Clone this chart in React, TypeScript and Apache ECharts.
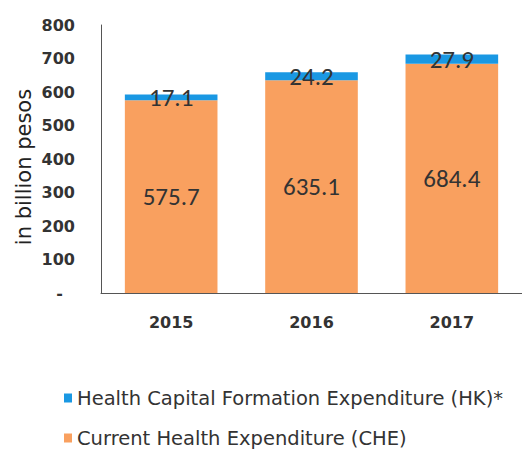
import React, { useEffect, useRef } from "react";
import * as echarts from "echarts";

const categories = ["2015", "2016", "2017"];
const cheValues = [575.7, 635.1, 684.4];
const hkValues = [17.1, 24.2, 27.9];
const yTicks = [0, 100, 200, 300, 400, 500, 600, 700, 800];
const yAxisTitle = "in billion pesos";
const cheName = "Current Health Expenditure (CHE)";
const hkName = "Health Capital Formation Expenditure (HK)*";

export default function App() {
  const ref = useRef<HTMLDivElement>(null);
  useEffect(() => {
    if (!ref.current) return;
    const chart = echarts.init(ref.current, null, { renderer: "svg" });
    chart.setOption({
      animation: false,
      backgroundColor: "#ffffff",
      grid: { left: 101, right: -5, top: 25, bottom: 156, containLabel: false },
      graphic: [
        {
          type: "text",
          x: 24,
          y: 167,
          rotation: Math.PI / 2,
          style: {
            text: yAxisTitle,
            font: "21px 'DejaVu Sans'",
            fill: "#222222",
            align: "center",
            verticalAlign: "middle",
          },
        },
      ],
      legend: {
        orient: "vertical",
        left: 64,
        top: 388,
        padding: 0,
        itemGap: 20,
        itemWidth: 8,
        itemHeight: 9,
        icon: "rect",
        data: [hkName, cheName],
        textStyle: { fontFamily: "DejaVu Sans", fontSize: 19.5, lineHeight: 20, color: "#333333" },
      },
      xAxis: {
        type: "category",
        data: categories,
        axisLine: { show: true, lineStyle: { color: "#555555", width: 1 } },
        axisTick: { show: false },
        axisLabel: {
          margin: 21,
          fontFamily: "DejaVu Sans",
          fontWeight: "bold",
          fontSize: 16,
          color: "#333333",
        },
      },
      yAxis: {
        type: "value",
        min: yTicks[0],
        max: yTicks[yTicks.length - 1],
        interval: 100,
        axisLine: { show: true, lineStyle: { color: "#555555", width: 1 } },
        axisTick: { show: false },
        splitLine: { show: false },
        axisLabel: {
          margin: 26,
          fontFamily: "DejaVu Sans",
          fontWeight: "bold",
          fontSize: 16,
          color: "#333333",
          formatter: (v: number) => (v === yTicks[0] ? "{d|-}" : String(v)),
          rich: {
            d: {
              fontFamily: "DejaVu Sans",
              fontWeight: "bold",
              fontSize: 16,
              color: "#333333",
              padding: [0, 12, 0, 0],
            },
          },
        },
      },
      series: [
        {
          name: cheName,
          type: "bar",
          stack: "total",
          data: cheValues,
          barCategoryGap: "34%",
          itemStyle: { color: "#F9A05F" },
          label: {
            show: true,
            position: "inside",
            fontFamily: "Carlito, Liberation Sans, Arial",
            fontSize: 25,
            color: "#333333",
            formatter: (p: any) => p.value.toFixed(1),
          },
        },
        {
          name: hkName,
          type: "bar",
          stack: "total",
          data: hkValues,
          barCategoryGap: "34%",
          itemStyle: { color: "#1A98E3" },
          label: {
            show: true,
            position: "inside",
            fontFamily: "Carlito, Liberation Sans, Arial",
            fontSize: 25,
            color: "#333333",
            formatter: (p: any) => p.value.toFixed(1),
          },
        },
      ],
    });
    return () => chart.dispose();
  }, []);
  return <div ref={ref} style={{ width: 522, height: 449, position: "absolute", left: 0, top: 0 }} />;
}
